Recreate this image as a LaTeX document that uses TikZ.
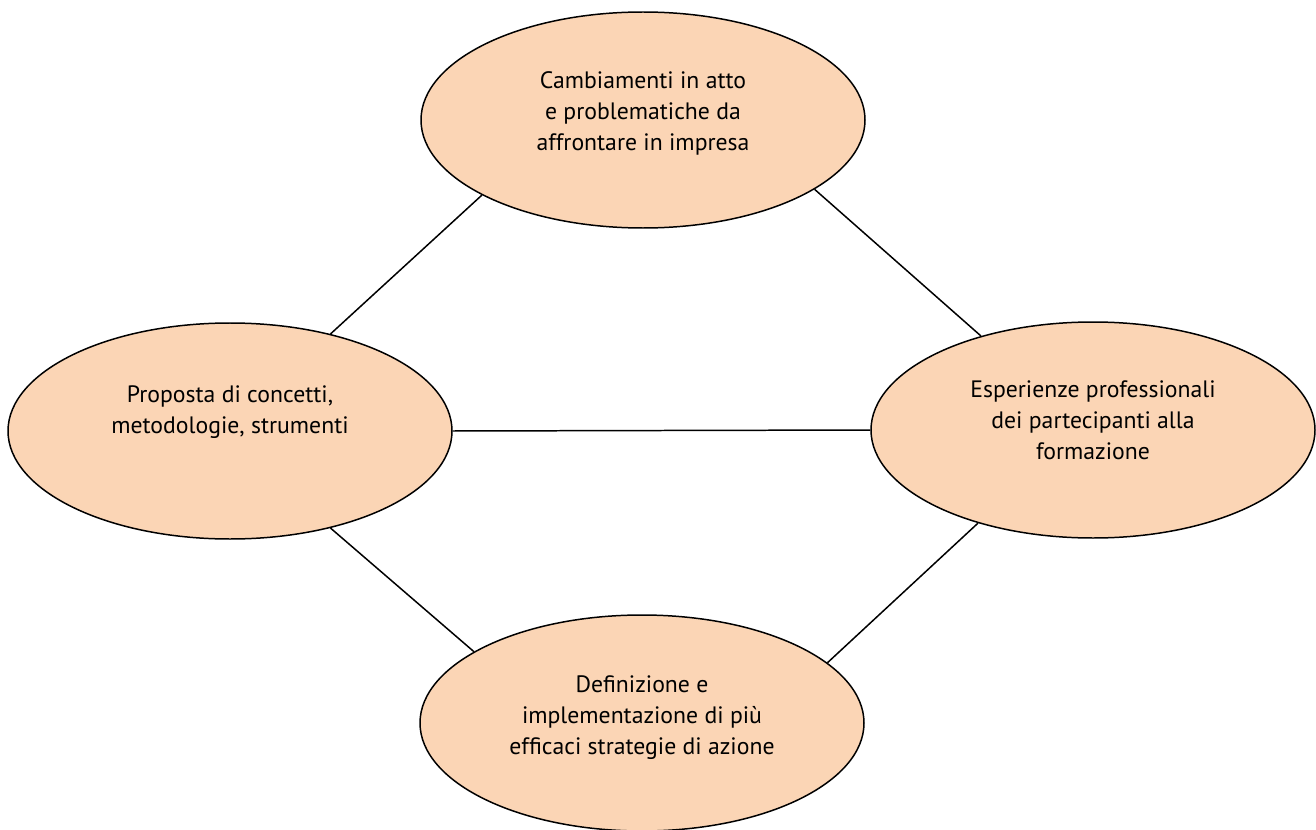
\documentclass[tikz,border=0pt]{standalone}
\usepackage{fontspec}
\setmainfont{PT Sans}
\usetikzlibrary{shapes.geometric}
\definecolor{peach}{HTML}{FBD5B5}

\begin{document}
\begin{tikzpicture}
    [topic/.style={ellipse, draw, fill=peach, line width=0.85pt, inner sep=0pt,
                   minimum width=8.88cm, minimum height=4.32cm},
     txt/.style={align=center, font=\fontsize{13.5}{17.6}\selectfont},
     link/.style={line width=0.85pt}]
    \useasboundingbox (0,0) rectangle (26.32,-16.6);
    \node[topic] (cambio) at (12.86,-2.40) {};
    \node[topic] (proposta) at (4.60,-8.62) {};
    \node[topic] (esperienze) at (21.86,-8.60) {};
    \node[topic] (strategie) at (12.84,-14.46) {};
    % testi
    \node[txt] (cambioT) at ([yshift=0.14cm]cambio.center) {Cambiamenti in atto\\e problematiche da\\affrontare in impresa};
    \node[txt] (propostaT) at ([yshift=0.38cm]proposta.center) {Proposta di concetti,\\metodologie, strumenti};
    \node[txt] (esperienzeT) at ([yshift=0.2cm]esperienze.center) {Esperienze professionali\\dei partecipanti alla\\formazione};
    \node[txt] (strategieT) at ([yshift=0.1cm]strategie.center) {Definizione e\\implementazione di più\\efficaci strategie di azione};
    % collegamenti
    \draw[link] (cambio.205) -- (proposta.44);
    \draw[link] (cambio.338) -- (esperienze.140);
    \draw[link] (proposta.east) -- (esperienze.west);
    \draw[link] (proposta.316) -- (strategie.157);
    \draw[link] (esperienze.219) -- (strategie.18);
\end{tikzpicture}
\end{document}
